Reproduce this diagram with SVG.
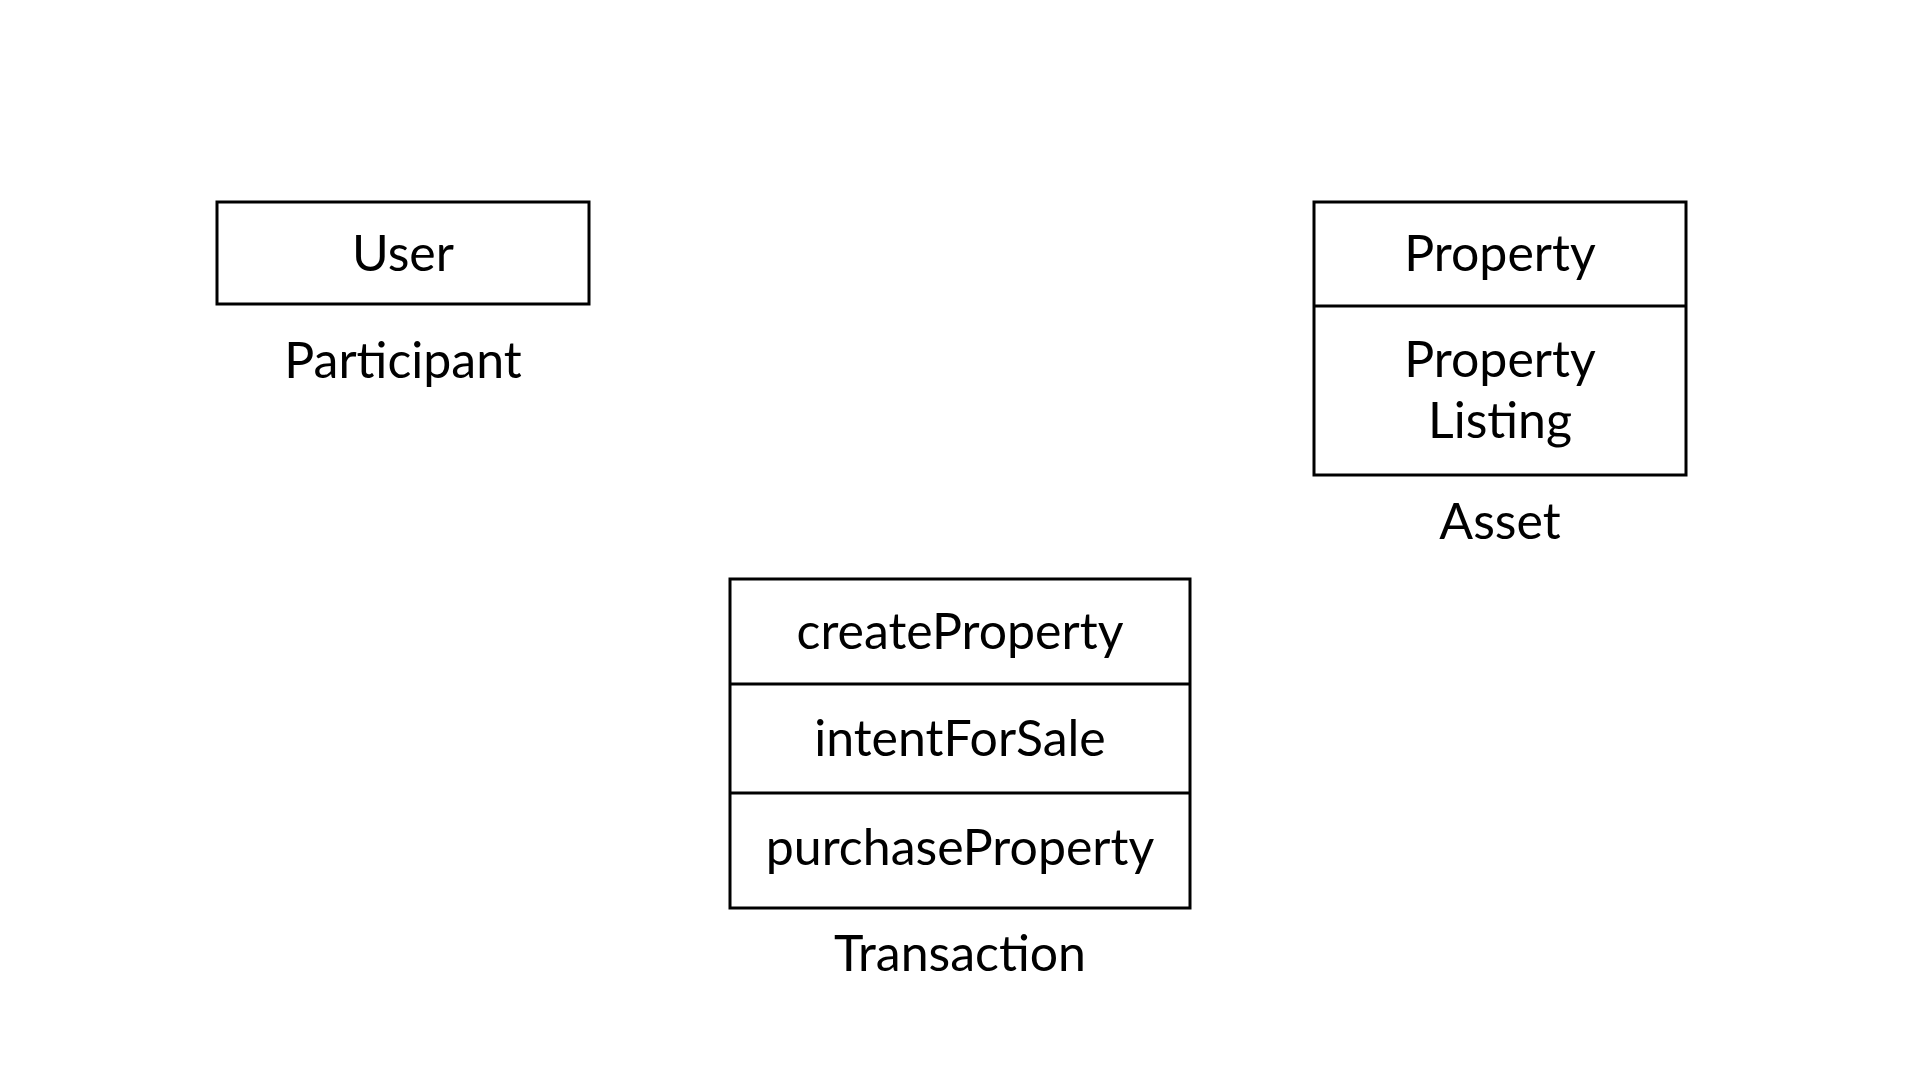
<svg xmlns="http://www.w3.org/2000/svg" width="1920" height="1080" viewBox="0 0 1920 1080">
<style>
.box{fill:#fff;stroke:#000;stroke-width:3}
.div{stroke:#000;stroke-width:3}
text{font-family:Lato,"Open Sans",sans-serif;font-size:50px;fill:#000;text-anchor:middle}
</style>
<rect width="1920" height="1080" fill="#fff"/>
<g id="participant">
<rect class="box" x="217" y="202" width="372" height="102"/>
<text x="403" y="271">User</text>
<text x="403" y="378">Participant</text>
</g>
<g id="asset">
<rect class="box" x="1314" y="202" width="372" height="273"/>
<line class="div" x1="1314" y1="306" x2="1686" y2="306"/>
<text x="1500" y="271">Property</text>
<text x="1500" y="377">Property</text>
<text x="1500" y="438">Listing</text>
<text x="1500" y="539">Asset</text>
</g>
<g id="transaction">
<rect class="box" x="730" y="579" width="460" height="329"/>
<line class="div" x1="730" y1="684" x2="1190" y2="684"/>
<line class="div" x1="730" y1="793" x2="1190" y2="793"/>
<text x="960" y="649">createProperty</text>
<text x="960" y="756">intentForSale</text>
<text x="960" y="865">purchaseProperty</text>
<text x="960" y="971">Transaction</text>
</g>
<g id="connectors"></g>
</svg>
